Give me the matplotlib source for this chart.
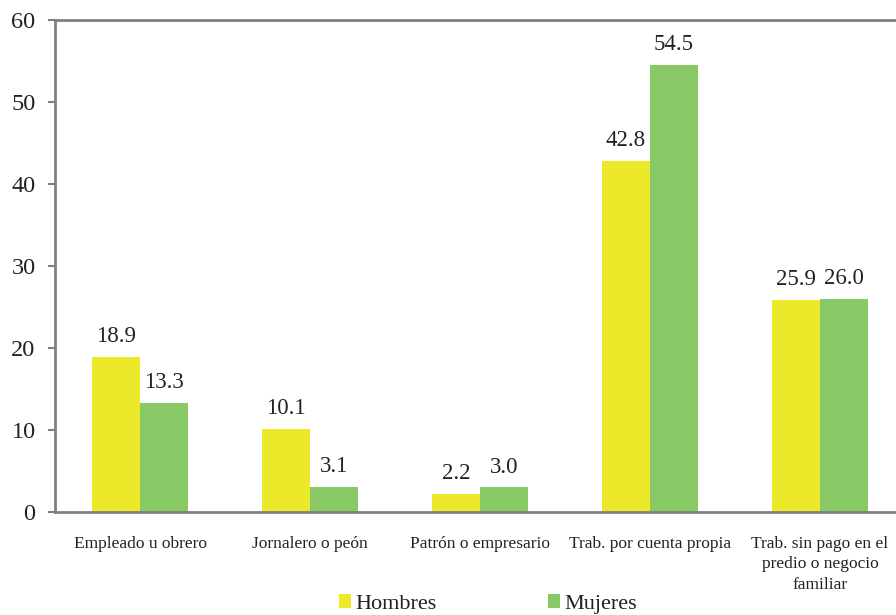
import matplotlib.pyplot as plt
import numpy as np

plt.rcParams['font.family'] = ['Liberation Serif', 'DejaVu Serif']

categorias = ['Empleado u obrero', 'Jornalero o peón', 'Patrón o empresario',
              'Trab. por cuenta propia', 'Trab. sin pago en el\npredio o negocio\nfamiliar']
hombres = [18.9, 10.1, 2.2, 42.8, 25.9]
mujeres = [13.3, 3.1, 3.0, 54.5, 26.0]

amarillo = '#ECE82A'
verde = '#88C865'
gris = '#808080'
texto = '#222222'

fig = plt.figure(figsize=(8.96, 6.15), dpi=100)
ax = fig.add_axes([0.0614, 0.1675, 0.9486, 0.80])

x = np.arange(len(categorias))
ancho = 0.283
b1 = ax.bar(x - ancho / 2, hombres, ancho, color=amarillo, label='Hombres')
b2 = ax.bar(x + ancho / 2, mujeres, ancho, color=verde, label='Mujeres')

for barras in (b1, b2):
    for b in barras:
        v = b.get_height()
        ax.annotate(f'{v:.1f}', (b.get_x() + b.get_width() / 2, v),
                    xytext=(0, 7), textcoords='offset points',
                    ha='center', va='bottom', fontsize=16.5, color=texto)

ax.set_xlim(-0.5, len(categorias) - 0.5)
ax.set_ylim(0, 60)
ax.set_yticks(range(0, 61, 10))
ax.tick_params(axis='y', labelsize=17.5, colors=gris, labelcolor=texto,
               length=5, width=1.5, direction='out', pad=9)
ax.set_xticks(x)
ax.set_xticklabels(categorias, fontsize=12.5, color=texto, linespacing=1.4, va='top')
ax.tick_params(axis='x', length=0, pad=17)

for lado in ('left', 'bottom', 'top'):
    ax.spines[lado].set_color(gris)
    ax.spines[lado].set_linewidth(2)
ax.spines['right'].set_visible(False)

fig.legend(handles=[b1, b2], loc='center', bbox_to_anchor=(0.545, 0.018),
           ncol=2, frameon=False, fontsize=16, columnspacing=5.0,
           handlelength=0.55, handleheight=0.55, handletextpad=0.2,
           labelcolor=texto)

fig.savefig('out.png', dpi=100)
